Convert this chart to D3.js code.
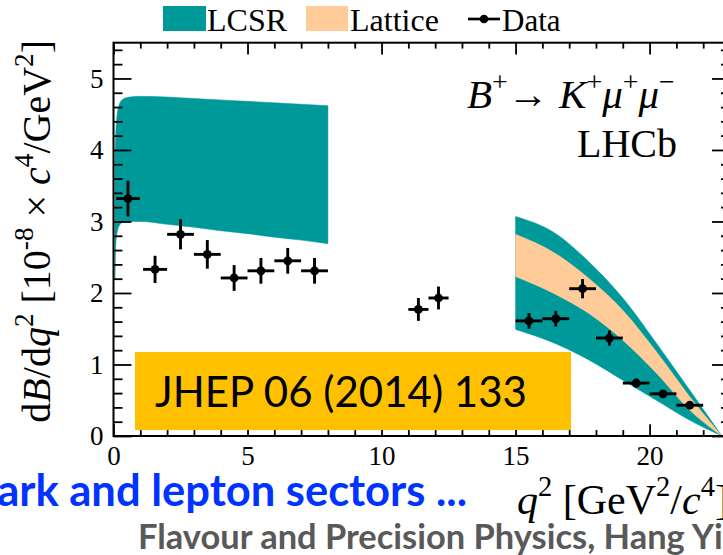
<!DOCTYPE html>
<html><head><meta charset="utf-8">
<script src="https://cdn.jsdelivr.net/npm/d3@7"></script>
<style>html,body{margin:0;padding:0;background:#fff;overflow:hidden}</style>
</head><body>
<svg id="c" width="723" height="555"></svg>
<script>
// ---- data ----
const binLo = [0.1,1.1,2,3,4,5,6,7,11,11.75,15,16,17,18,19,20,21];
const binHi = [0.98,2,3,4,5,6,7,8,11.75,12.5,16,17,18,19,20,21,22];
const dataValues = [3.32,2.33,2.82,2.54,2.21,2.31,2.45,2.31,1.77,1.93,1.61,1.64,2.06,1.37,0.74,0.59,0.43];
const dataErrors = [0.25,0.19,0.21,0.20,0.18,0.18,0.18,0.18,0.16,0.16,0.11,0.11,0.135,0.105,0.065,0.05,0.045];

const lowQ2 = [0.05,0.1,0.2,0.35,0.6,1,2,3,4,5,6,7,8];
const lcsrLowUpper = [3.9,4.35,4.62,4.71,4.74,4.75,4.74,4.72,4.70,4.68,4.66,4.64,4.62];
const lcsrLowLower = [2.2,2.75,2.93,2.99,3.0,3.0,2.96,2.92,2.87,2.83,2.78,2.74,2.69];

const highQ2 = [15,16.5,17.75,19,20.25,21.5,22.7];
const lcsrHighUpper = [3.07,2.83,2.43,1.93,1.30,0.64,0];
const lcsrHighLower = [1.49,1.29,1.06,0.78,0.50,0.22,0];
const latticeUpper = [2.82,2.55,2.20,1.76,1.18,0.55,0];
const latticeLower = [2.23,1.98,1.71,1.34,0.88,0.36,0];

const xTicks = [0,5,10,15,20];
const yTicks = [0,1,2,3,4,5];
const legendLabels = ["LCSR","Lattice","Data"];
const refText = "JHEP 06 (2014) 133";
const slideTitle = "ark and lepton sectors ...";
const slideFooter = "Flavour and Precision Physics, Hang Yi";

// ---- styles ----
const TEAL = "#009999", PEACH = "#FFCC99", GOLD = "#FFC000";
const SERIF = "'Liberation Serif','Times New Roman',serif";
const SANS = "Lato,'Open Sans',sans-serif";

const svg = d3.select("#c");
const m = {left:113.5, right:730, top:42.7, bottom:436};
const x = d3.scaleLinear().domain([0,23]).range([m.left, m.right]);
const y = d3.scaleLinear().domain([0,5.5]).range([m.bottom, m.top]);

const plot = svg.append("g");
svg.append("defs").append("clipPath").attr("id","clip")
  .append("rect").attr("x",m.left).attr("y",m.top).attr("width",m.right-m.left).attr("height",m.bottom-m.top);
const bands = plot.append("g").attr("clip-path","url(#clip)");

function band(xs, lo, hi, fill){
  const pts = xs.map((q,i)=>({q, lo:lo[i], hi:hi[i]}));
  const area = d3.area().x(d=>x(d.q)).y0(d=>y(d.lo)).y1(d=>y(d.hi)).curve(d3.curveMonotoneX);
  bands.append("path").datum(pts).attr("d",area).attr("fill",fill).attr("stroke",fill).attr("stroke-width",0.5);
}
band(lowQ2, lcsrLowLower, lcsrLowUpper, TEAL);
band(highQ2, lcsrHighLower, lcsrHighUpper, TEAL);
band(highQ2, latticeLower, latticeUpper, PEACH);

// ---- axes ----
const minorY = d3.range(0,5.51,0.2).filter(v=>Math.abs(v-Math.round(v))>1e-6);
const minorX = d3.range(0,23.01,1).filter(v=>v%5!==0);
const tickStroke = 1.8;
function styleAxis(g, labels){
  g.select(".domain").remove();
  g.selectAll("line").attr("stroke","#000").attr("stroke-width",tickStroke);
  if(labels) g.selectAll("text").attr("font-family",SERIF).attr("font-size",27).attr("fill","#000");
  else g.selectAll("text").remove();
}
function addAxis(axis, tr, labels){
  plot.append("g").attr("transform",tr).call(axis).call(g=>styleAxis(g,labels));
}
// left
addAxis(d3.axisLeft(y).tickValues(yTicks).tickSizeInner(-18).tickSizeOuter(0).tickPadding(10).tickFormat(d3.format("d")), `translate(${m.left},0)`, true);
addAxis(d3.axisLeft(y).tickValues(minorY).tickSizeInner(-9).tickSizeOuter(0), `translate(${m.left},0)`, false);
// right
addAxis(d3.axisRight(y).tickValues(yTicks).tickSizeInner(-18).tickSizeOuter(0), `translate(${m.right},0)`, false);
addAxis(d3.axisRight(y).tickValues(minorY).tickSizeInner(-9).tickSizeOuter(0), `translate(${m.right},0)`, false);
// bottom
addAxis(d3.axisBottom(x).tickValues(xTicks).tickSizeInner(-11.8).tickSizeOuter(0).tickPadding(10).tickFormat(d3.format("d")), `translate(0,${m.bottom})`, true);
addAxis(d3.axisBottom(x).tickValues(minorX).tickSizeInner(-5.9).tickSizeOuter(0), `translate(0,${m.bottom})`, false);
// top
addAxis(d3.axisTop(x).tickValues(xTicks).tickSizeInner(-11.8).tickSizeOuter(0), `translate(0,${m.top})`, false);
addAxis(d3.axisTop(x).tickValues(minorX).tickSizeInner(-5.9).tickSizeOuter(0), `translate(0,${m.top})`, false);
// frame
plot.append("rect").attr("x",m.left).attr("y",m.top).attr("width",m.right-m.left).attr("height",m.bottom-m.top)
  .attr("fill","none").attr("stroke","#000").attr("stroke-width",2);

// ---- data points ----
const pts = dataValues.map((v,i)=>({lo:binLo[i], hi:binHi[i], v, e:dataErrors[i]}));
const pg = plot.append("g");
pg.selectAll("line.h").data(pts).join("line").attr("class","h")
  .attr("x1",d=>x(d.lo)).attr("x2",d=>x(d.hi)).attr("y1",d=>y(d.v)).attr("y2",d=>y(d.v))
  .attr("stroke","#000").attr("stroke-width",2.9);
pg.selectAll("line.v").data(pts).join("line").attr("class","v")
  .attr("x1",d=>x((d.lo+d.hi)/2)).attr("x2",d=>x((d.lo+d.hi)/2)).attr("y1",d=>y(d.v-d.e)).attr("y2",d=>y(d.v+d.e))
  .attr("stroke","#000").attr("stroke-width",2.9);
pg.selectAll("circle").data(pts).join("circle")
  .attr("cx",d=>x((d.lo+d.hi)/2)).attr("cy",d=>y(d.v)).attr("r",4.4).attr("fill","#000");

// ---- rich text helper ----
function rich(g, parts, fs){
  const t = g.append("text").attr("font-family",SERIF).attr("font-size",fs).attr("fill","#000");
  let shift = 0;
  parts.forEach(p=>{
    const s = t.append("tspan").text(p.t);
    let target = p.sup ? -0.42*fs : 0;
    if(target!==shift){ s.attr("dy", target-shift); shift = target; }
    if(p.sup) s.attr("font-size", fs*0.68);
    if(p.i) s.attr("font-style","italic");
  });
  return t;
}

// y title
const yt = svg.append("g").attr("transform","translate(50,40) rotate(-90)");
rich(yt,[{t:"d"},{t:"B",i:1},{t:"/d"},{t:"q",i:1},{t:"2",sup:1},{t:" [10"},{t:"-8",sup:1},{t:" × "},{t:"c",i:1},{t:"4",sup:1},{t:"/GeV"},{t:"2",sup:1},{t:"]"}],40)
  .attr("text-anchor","end");
// x title
const xt = svg.append("g").attr("transform","translate(517,514)");
rich(xt,[{t:"q",i:1},{t:"2",sup:1},{t:" [GeV"},{t:"2",sup:1},{t:"/"},{t:"c",i:1},{t:"4",sup:1},{t:"]"}],42);
// process label
const pl = svg.append("g").attr("transform","translate(467,108)");
rich(pl,[{t:"B",i:1},{t:"+",sup:1},{t:"→ "},{t:"K",i:1},{t:"+",sup:1},{t:"μ",i:1},{t:"+",sup:1},{t:"μ",i:1},{t:"−",sup:1}],41);
svg.append("text").attr("x",677).attr("y",157).attr("text-anchor","end")
  .attr("font-family",SERIF).attr("font-size",40).text("LHCb");

// ---- legend ----
const lg = svg.append("g");
lg.append("rect").attr("x",163).attr("y",6).attr("width",43).attr("height",25).attr("fill",TEAL);
lg.append("text").attr("x",207).attr("y",31).attr("font-family",SERIF).attr("font-size",32).text(legendLabels[0]);
lg.append("rect").attr("x",306).attr("y",6).attr("width",42).attr("height",25).attr("fill",PEACH);
lg.append("text").attr("x",350).attr("y",31).attr("font-family",SERIF).attr("font-size",32).text(legendLabels[1]);
lg.append("line").attr("x1",468).attr("x2",500).attr("y1",19).attr("y2",19).attr("stroke","#000").attr("stroke-width",2.7);
lg.append("circle").attr("cx",484).attr("cy",19).attr("r",4.3).attr("fill","#000");
lg.append("text").attr("x",502).attr("y",31).attr("font-family",SERIF).attr("font-size",31).text(legendLabels[2]);

// ---- slide overlays ----
function fit(t, w){
  const cur = +t.attr("font-size");
  const len = t.node().getComputedTextLength();
  t.attr("font-size", cur*w/len);
}
svg.append("rect").attr("x",135).attr("y",352).attr("width",436).attr("height",78).attr("fill",GOLD);
const jt = svg.append("text").attr("x",155).attr("y",407).attr("font-family",SANS).attr("font-size",44).attr("fill","#000").text(refText);
fit(jt, 372);

const bt = svg.append("text").attr("x",467).attr("y",506).attr("text-anchor","end").attr("font-family",SANS)
  .attr("font-weight","bold").attr("font-size",36).attr("fill","#0033FF").text(slideTitle);
fit(bt, 470);
const ft = svg.append("text").attr("x",138).attr("y",549).attr("font-family",SANS)
  .attr("font-weight","bold").attr("font-size",32).attr("fill","#595959").text(slideFooter);
fit(ft, 585);
</script>
</body></html>
